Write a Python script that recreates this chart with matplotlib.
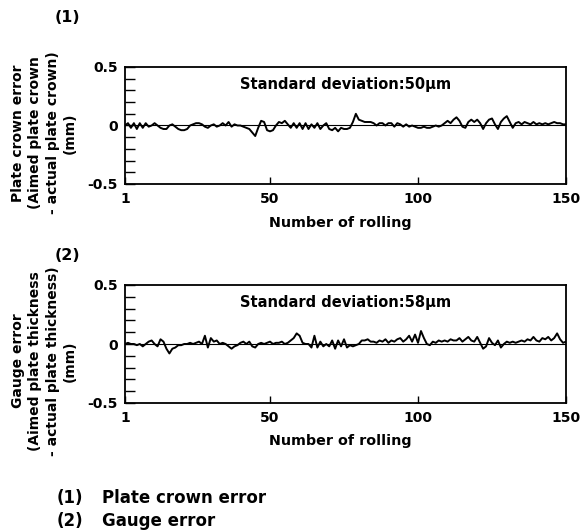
import matplotlib
matplotlib.use("Agg")
import matplotlib.pyplot as plt
from matplotlib.ticker import MultipleLocator
import numpy as np

plt.rcParams['font.family'] = ['DejaVu Sans']
plt.rcParams['font.weight'] = 'bold'

rolling = list(range(1, 151))

crown_error = [
    0.00, 0.02, -0.02, 0.02, -0.03, 0.02, -0.02, 0.02, -0.01, 0.00,
    0.02, 0.00, -0.02, -0.03, -0.03, 0.00, 0.01, -0.01, -0.03, -0.04,
    -0.04, -0.03, 0.00, 0.01, 0.02, 0.02, 0.01, -0.01, -0.02, 0.00,
    0.01, -0.01, 0.00, 0.02, 0.00, 0.03, -0.01, 0.01, 0.00, 0.00,
    -0.01, -0.02, -0.03, -0.06, -0.09, -0.02, 0.04, 0.03, -0.04, -0.05,
    -0.04, 0.00, 0.03, 0.02, 0.04, 0.01, -0.02, 0.02, -0.02, 0.02,
    -0.03, 0.02, -0.03, 0.01, -0.02, 0.02, -0.03, 0.00, 0.02, -0.03,
    -0.04, -0.02, -0.05, -0.02, -0.03, -0.03, -0.02, 0.03, 0.10, 0.05,
    0.04, 0.03, 0.03, 0.03, 0.02, 0.00, 0.02, 0.02, 0.00, 0.02,
    0.02, -0.01, 0.02, 0.01, -0.01, 0.01, -0.01, 0.00, -0.01, -0.02,
    -0.02, -0.01, -0.02, -0.02, -0.01, 0.00, -0.01, 0.00, 0.02, 0.04,
    0.02, 0.05, 0.07, 0.04, -0.01, -0.02, 0.03, 0.05, 0.03, 0.05,
    0.02, -0.03, 0.02, 0.05, 0.06, 0.01, -0.03, 0.03, 0.06, 0.08,
    0.03, -0.02, 0.02, 0.03, 0.01, 0.03, 0.02, 0.01, 0.03, 0.01,
    0.02, 0.01, 0.02, 0.01, 0.02, 0.03, 0.02, 0.02, 0.01, 0.01,
]

gauge_error = [
    0.00, 0.01, 0.00, 0.00, -0.01, 0.00, -0.02, 0.00, 0.02, 0.03,
    0.00, -0.02, 0.04, 0.02, -0.04, -0.08, -0.04, -0.03, -0.01, -0.01,
    0.00, 0.00, 0.01, 0.00, 0.01, 0.02, 0.00, 0.07, -0.03, 0.05,
    0.02, 0.03, 0.00, 0.01, 0.00, -0.02, -0.04, -0.02, -0.01, 0.01,
    0.02, 0.00, 0.02, -0.02, -0.03, 0.00, 0.01, 0.00, 0.01, 0.02,
    0.00, 0.01, 0.01, 0.02, 0.00, 0.01, 0.03, 0.05, 0.09, 0.07,
    0.01, 0.00, 0.00, -0.03, 0.07, -0.03, 0.02, -0.02, 0.00, -0.02,
    0.03, -0.04, 0.03, -0.02, 0.04, -0.03, -0.01, -0.02, -0.01, 0.00,
    0.03, 0.03, 0.04, 0.02, 0.02, 0.01, 0.03, 0.02, 0.04, 0.01,
    0.03, 0.02, 0.04, 0.05, 0.02, 0.04, 0.07, 0.02, 0.08, 0.01,
    0.11, 0.05, 0.00, -0.01, 0.02, 0.01, 0.03, 0.02, 0.03, 0.02,
    0.04, 0.03, 0.03, 0.05, 0.02, 0.04, 0.06, 0.03, 0.02, 0.06,
    0.01, -0.04, -0.02, 0.05, 0.01, -0.01, 0.03, -0.03, 0.00, 0.02,
    0.01, 0.02, 0.01, 0.02, 0.03, 0.02, 0.04, 0.03, 0.06, 0.03,
    0.02, 0.05, 0.04, 0.06, 0.03, 0.05, 0.09, 0.04, 0.01, 0.02,
]

x_ticks = [1, 50, 100, 150]
y_ticks = [-0.5, 0, 0.5]
y_ticklabels = ['-0.5', '0', '0.5']

footer_tags = ['(1)', '(2)']
footer_texts = ['Plate crown error', 'Gauge error']

panels = [
    dict(data=crown_error, rect=[125/587, 1-184/530, 441/587, 117/530],
         sd='Standard deviation:50μm', tag='(1)', tag_y=1-18/530,
         ylabel='Plate crown error\n(Aimed plate crown\n- actual plate crown)\n(mm)',
         ylab_y=1-133/530, xlab_y=1-223/530),
    dict(data=gauge_error, rect=[125/587, 1-403/530, 441/587, 118/530],
         sd='Standard deviation:58μm', tag='(2)', tag_y=1-256/530,
         ylabel='Gauge error\n(Aimed plate thickness\n- actual plate thickness)\n(mm)',
         ylab_y=1-361/530, xlab_y=1-441/530),
]

fig = plt.figure(figsize=(5.87, 5.30), dpi=100)

for p in panels:
    ax = fig.add_axes(p['rect'])
    ax.plot(rolling, p['data'], color='black', lw=1.4)
    ax.axhline(0, color='black', lw=0.8)
    ax.set_xlim(1, 150)
    ax.set_ylim(-0.5, 0.5)
    ax.set_xticks(x_ticks)
    ax.set_xticklabels([str(t) for t in x_ticks], fontsize=10, fontweight='bold')
    ax.set_yticks(y_ticks)
    ax.set_yticklabels(y_ticklabels, fontsize=10, fontweight='bold')
    ax.yaxis.set_minor_locator(MultipleLocator(0.1))
    ax.tick_params(axis='y', which='both', direction='in', length=7, width=1, pad=5)
    ax.tick_params(axis='x', which='both', direction='in', length=5, width=1, pad=6)
    for s in ax.spines.values():
        s.set_linewidth(1.3)
    ax.text(0.5, 0.85, p['sd'], transform=ax.transAxes, ha='center', va='center',
            fontsize=10.5, fontweight='bold')
    fig.text(340/587, p['xlab_y'], 'Number of rolling', ha='center', va='center',
             fontsize=10.3, fontweight='bold')
    fig.text(55/587, p['tag_y'], p['tag'], ha='left', va='center',
             fontsize=11.5, fontweight='bold')
    fig.text(44/587, p['ylab_y'], p['ylabel'], rotation=90, ha='center', va='center',
             multialignment='center', fontsize=10, fontweight='bold', linespacing=1.3)

for i, (tg, tx) in enumerate(zip(footer_tags, footer_texts)):
    yy = 1 - (498 + 23 * i) / 530
    fig.text(57/587, yy, tg, ha='left', va='center', fontsize=12, fontweight='bold')
    fig.text(102/587, yy, tx, ha='left', va='center', fontsize=12, fontweight='bold')

fig.savefig('out.png', dpi=100)
